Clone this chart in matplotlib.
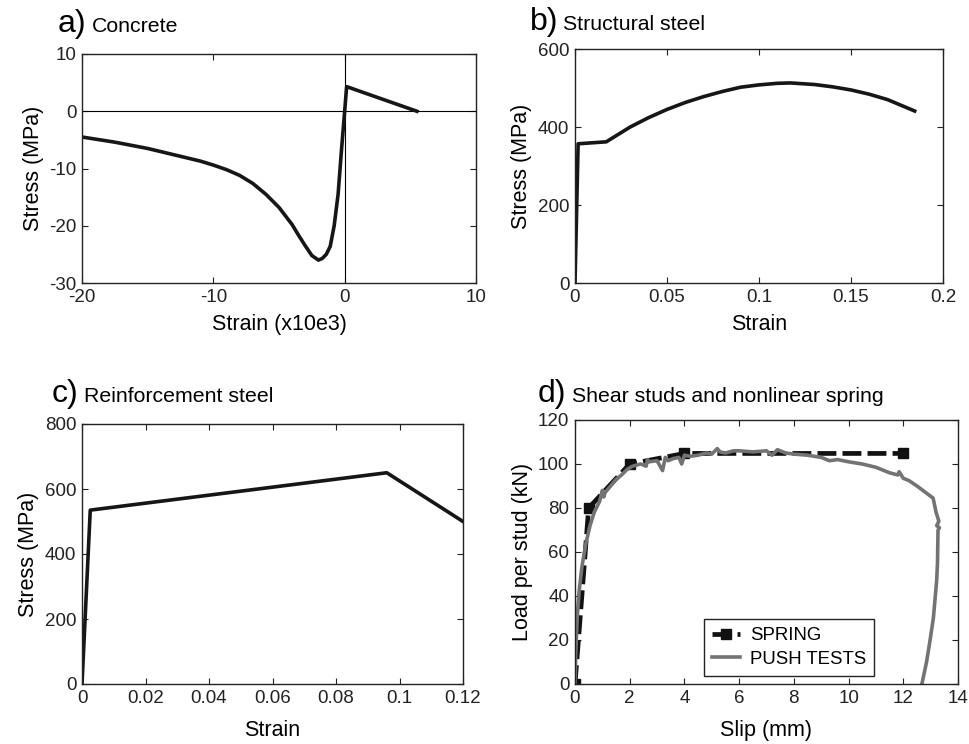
import matplotlib
matplotlib.use("Agg")
import matplotlib.pyplot as plt

plt.rcParams['font.family'] = ['Liberation Sans', 'DejaVu Sans']
plt.rcParams['axes.unicode_minus'] = False

# ---- data ----
concrete_strain = [-20, -17.5, -15, -13, -11, -10, -9, -8, -7, -6, -5, -4, -3.5, -3, -2.5,
                   -2.0, -1.7, -1.4, -1.1, -0.8, -0.5, -0.25, 0.0, 0.15, 5.5]
concrete_stress = [-4.5, -5.4, -6.5, -7.6, -8.7, -9.4, -10.2, -11.2, -12.6, -14.5, -16.8,
                   -19.8, -21.7, -23.5, -25.2, -26.0, -25.7, -25.0, -23.6, -20.0, -14.5,
                   -7.0, 0.0, 4.3, 0.0]

struct_strain = [0, 0.0017, 0.017, 0.03, 0.04, 0.05, 0.06, 0.07, 0.08, 0.09, 0.10, 0.11,
                 0.117, 0.13, 0.14, 0.15, 0.16, 0.17, 0.1846]
struct_stress = [0, 357, 362, 400, 424, 445, 463, 478, 491, 502, 508, 512, 513, 509, 503,
                 495, 484, 470, 441]

rebar_strain = [0, 0.0026, 0.096, 0.12]
rebar_stress = [0, 535, 650, 500]

spring_slip = [0, 0.5, 2, 4, 12]
spring_load = [0, 80, 100, 104.8, 104.8]

push_slip = [0, 0.03, 0.08, 0.15, 0.25, 0.4, 0.55, 0.7, 0.9, 1.0, 1.05, 1.1, 1.3, 1.5, 1.7,
             1.9, 2.1, 2.4, 2.6, 2.65, 2.7, 3.0, 3.2, 3.3, 3.4, 3.6, 3.8, 3.9, 4.0, 4.2,
             4.5, 4.8, 5.0, 5.2, 5.3, 5.5, 5.8, 6.0, 6.5, 7.0, 7.2, 7.4, 7.7, 8.0, 8.5,
             9.0, 9.3, 9.6, 10.0, 10.5, 11.0, 11.5, 11.8, 11.85, 12.0, 12.2, 12.5, 13.09,
             13.2, 13.3, 13.22, 13.32, 13.27, 13.25, 13.22, 13.1, 12.98, 12.85, 12.68]
push_load = [0, 15, 30, 42, 53, 64, 72, 78, 83, 88, 85, 87, 90, 93, 95,
             97.5, 99, 100, 99, 102, 101, 101.5, 97, 103, 101.5, 102.5, 103, 100, 104,
             103.5, 104, 105, 104.5, 107, 105.5, 105, 106, 106, 105.5, 106, 104, 106.5,
             105, 104.5, 104, 103, 101.5, 102, 101, 100, 98.5, 96, 95, 96.5, 93.5, 92.5,
             90, 84.5, 78, 74, 72, 71, 70, 55, 47, 30, 20, 10, 0]

W, H = 969, 744
fig = plt.figure(figsize=(W / 100, H / 100), dpi=100)


def add_ax(left, top, right, bottom):
    return fig.add_axes([left / W, 1 - bottom / H, (right - left) / W, (bottom - top) / H])


def style(ax):
    ax.tick_params(direction='in', top=True, right=True, length=4, width=0.8,
                   labelsize=13.5, colors='#222222', pad=4)
    for s in ax.spines.values():
        s.set_linewidth(1.0)
        s.set_color('#222222')


LBL = 15.5
TTL = 15.3
LET = 23
lw = 2.6

# a) concrete
ax = add_ax(82, 54, 476, 283)
ax.axhline(0, color='black', lw=0.8)
ax.axvline(0, color='black', lw=0.8)
ax.plot(concrete_strain, concrete_stress, color='#161616', lw=lw, solid_joinstyle='round')
ax.set_xlim(-20, 10)
ax.set_ylim(-30, 10)
ax.set_xticks([-20, -10, 0, 10])
ax.set_yticks([-30, -20, -10, 0, 10])
ax.set_xlabel('Strain (x10e3)', fontsize=LBL, labelpad=6)
ax.set_ylabel('Stress (MPa)', fontsize=LBL)
style(ax)
fig.text(58 / W, 1 - 32 / H, 'a)', fontsize=LET)
fig.text(92 / W, 1 - 32 / H, 'Concrete', fontsize=TTL)

# b) structural steel
ax = add_ax(575, 49, 943, 283)
ax.plot(struct_strain, struct_stress, color='#161616', lw=lw)
ax.set_xlim(0, 0.2)
ax.set_ylim(0, 600)
ax.set_xticks([0, 0.05, 0.1, 0.15, 0.2])
ax.set_xticklabels(['0', '0.05', '0.1', '0.15', '0.2'])
ax.set_yticks([0, 200, 400, 600])
ax.set_xlabel('Strain', fontsize=LBL, labelpad=6)
ax.set_ylabel('Stress (MPa)', fontsize=LBL)
style(ax)
fig.text(530 / W, 1 - 30 / H, 'b)', fontsize=LET)
fig.text(563 / W, 1 - 30 / H, 'Structural steel', fontsize=TTL)

# c) reinforcement steel
ax = add_ax(82, 424, 463, 684)
ax.plot(rebar_strain, rebar_stress, color='#161616', lw=lw)
ax.set_xlim(0, 0.12)
ax.set_ylim(0, 800)
ax.set_xticks([0, 0.02, 0.04, 0.06, 0.08, 0.1, 0.12])
ax.set_xticklabels(['0', '0.02', '0.04', '0.06', '0.08', '0.1', '0.12'])
ax.set_yticks([0, 200, 400, 600, 800])
ax.set_xlabel('Strain', fontsize=LBL, labelpad=10)
ax.set_ylabel('Stress (MPa)', fontsize=LBL)
style(ax)
fig.text(52 / W, 1 - 402 / H, 'c)', fontsize=LET)
fig.text(84 / W, 1 - 402 / H, 'Reinforcement steel', fontsize=TTL)

# d) shear studs
ax = add_ax(575, 420, 958, 684)
ax.plot(spring_slip, spring_load, color='#111111', lw=3.4, ls=(0, (4, 1.3)),
        marker='s', ms=6.5, mfc='#111111', mec='#111111', label='SPRING')
ax.plot(push_slip, push_load, color='#737373', lw=2.6, label='PUSH TESTS')
ax.set_xlim(0, 14)
ax.set_ylim(0, 120)
ax.set_xticks(range(0, 15, 2))
ax.set_yticks(range(0, 121, 20))
ax.set_xlabel('Slip (mm)', fontsize=LBL, labelpad=10)
ax.set_ylabel('Load per stud (kN)', fontsize=LBL)
style(ax)
leg = ax.legend(loc='lower left', bbox_to_anchor=(0.337, 0.03), borderaxespad=0,
                fontsize=13.4, frameon=True, fancybox=False, edgecolor='#222222',
                framealpha=1, handlelength=1.5, handletextpad=0.5, borderpad=0.45,
                labelspacing=0.35)
leg.get_frame().set_linewidth(1.0)
fig.text(538 / W, 1 - 402 / H, 'd)', fontsize=LET)
fig.text(572 / W, 1 - 402 / H, 'Shear studs and nonlinear spring', fontsize=TTL)

fig.savefig('out.png', dpi=100)
